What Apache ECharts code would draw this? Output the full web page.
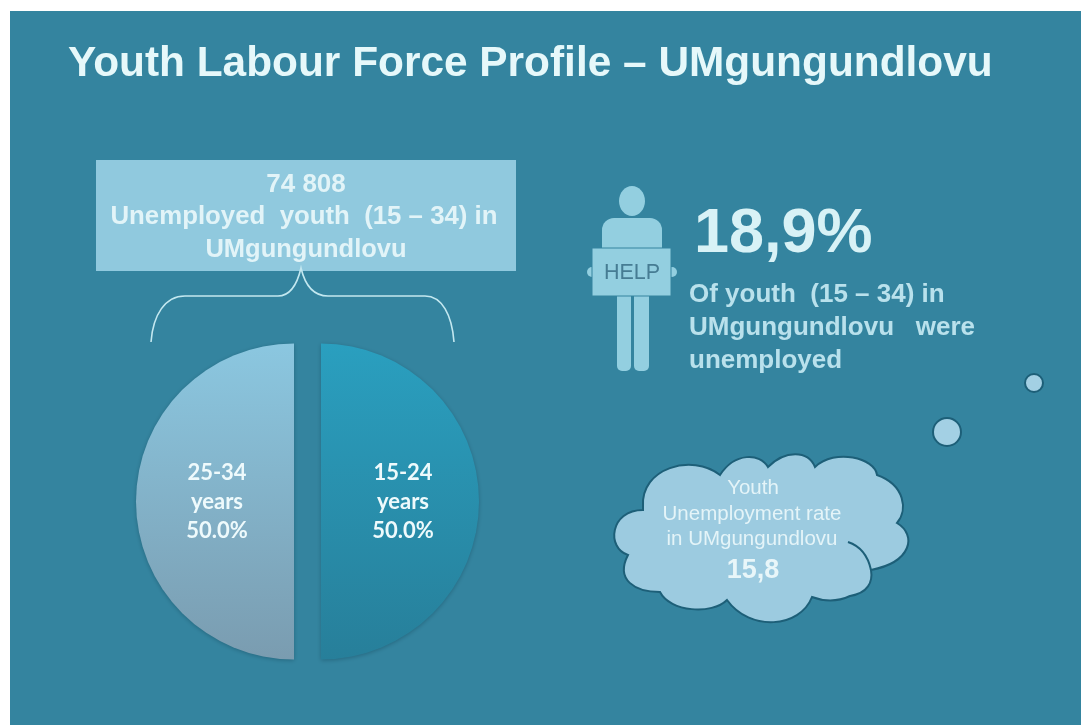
<!DOCTYPE html>
<html>
<head>
<meta charset="utf-8">
<style>html,body{margin:0;padding:0;background:#fff}#c{width:1081px;height:725px}</style>
<script src="https://cdn.jsdelivr.net/npm/echarts@6/dist/echarts.min.js"></script>
</head>
<body>
<div id="c"></div>
<script>
const chartTitle = 'Youth Labour Force Profile – UMgungundlovu';
const ageGroups = ['15-24', '25-34'];
const ageShares = [50.0, 50.0];
const boxLines = ['74 808', 'Unemployed  youth  (15 – 34) in', 'UMgungundlovu'];
const bigStat = '18,9%';
const statLines = ['Of youth  (15 – 34) in', 'UMgungundlovu   were', 'unemployed'];
const cloudLines = ['Youth', 'Unemployment rate', 'in UMgungundlovu'];
const cloudValue = '15,8';

const SANS = '"Liberation Sans", Arial, sans-serif';
const grad = (a, b) => ({ type: 'linear', x: 0, y: 0, x2: 0, y2: 1, colorStops: [{ offset: 0, color: a }, { offset: 1, color: b }] });
const fills = [grad('#2a9fbf', '#277f9a'), grad('#8bc7e0', '#7a9cb0')];

const txt = (text, x, y, size, color, align, weight) => ({
  type: 'text', x, y,
  style: { text, fill: color, font: (weight || 'bold') + ' ' + size + 'px ' + SANS, align: align || 'center', verticalAlign: 'middle' }
});

const cloudPath = 'M643 507 C640 468 692 453 720 475 C735 452 760 453 768 467 C785 450 808 450 815 467 C835 448 875 458 877 475 ' +
  'C905 485 908 510 897 523 C917 535 912 562 871 570 C873 582 868 593 850 596 C835 603 820 600 812 597 C800 628 750 632 727 600 ' +
  'C712 615 670 612 660 592 C635 592 615 580 628 555 C606 548 610 510 643 510 Z';
const cloudInnerPath = 'M848 542 C860 546 868 556 871 570';
const bracePath = 'M151 342 C153 315 165 296 185 296 L278 296 C290 296 297 285 301 268 C305 285 314 296 328 296 L425 296 C442 296 452 315 454 342';
echarts.graphic.registerShape('cloudShape', echarts.graphic.extendPath(cloudPath, {}));
echarts.graphic.registerShape('cloudInnerShape', echarts.graphic.extendPath(cloudInnerPath, {}));
echarts.graphic.registerShape('braceShape', echarts.graphic.extendPath(bracePath, {}));

const option = {
  animation: false,
  title: {
    text: chartTitle, left: 63, top: 38,
    textStyle: { color: '#e6f8fa', fontFamily: SANS, fontWeight: 'bold', fontSize: 42.4 }
  },
  graphic: { elements: [
    { type: 'rect', shape: { x: 10, y: 11, width: 1071, height: 714 }, style: { fill: '#34849f' } },
    // headline box
    { type: 'rect', shape: { x: 96, y: 160, width: 420, height: 111 }, style: { fill: '#90c9de' } },
    txt(boxLines[0], 306, 185, 26, '#e2f4f8'),
    txt(boxLines[1], 304, 217, 25.8, '#e2f4f8'),
    txt(boxLines[2], 306, 250, 25.5, '#e2f4f8'),
    // brace
    { type: 'braceShape', style: { fill: 'none', stroke: '#c3e8f0', lineWidth: 1.6 } },
    // person
    { type: 'ellipse', shape: { cx: 632, cy: 201, rx: 13, ry: 15 }, style: { fill: '#93cfe0' } },
    { type: 'rect', shape: { x: 602, y: 218, width: 60, height: 32, r: [12, 12, 0, 0] }, style: { fill: '#93cfe0' } },
    { type: 'rect', shape: { x: 617, y: 296, width: 14, height: 75, r: [0, 0, 5, 5] }, style: { fill: '#93cfe0' } },
    { type: 'rect', shape: { x: 634, y: 296, width: 15, height: 75, r: [0, 0, 5, 5] }, style: { fill: '#93cfe0' } },
    { type: 'circle', shape: { cx: 592, cy: 272, r: 5 }, style: { fill: '#93cfe0' } },
    { type: 'circle', shape: { cx: 672, cy: 272, r: 5 }, style: { fill: '#93cfe0' } },
    { type: 'rect', shape: { x: 592, y: 248, width: 79, height: 48 }, style: { fill: '#93cfe0', stroke: '#34849f', lineWidth: 1 } },
    txt('HELP', 632, 273, 21.5, '#467c93', 'center', 'normal'),
    // statistic
    txt(bigStat, 694, 235, 63, '#d8f2f6', 'left'),
    txt(statLines[0], 689, 295, 26, '#b9e1ec', 'left'),
    txt(statLines[1], 689, 328, 26, '#b9e1ec', 'left'),
    txt(statLines[2], 689, 361, 26, '#b9e1ec', 'left'),
    // thought bubbles and cloud
    { type: 'circle', shape: { cx: 1034, cy: 383, r: 9 }, style: { fill: '#a3d0e4', stroke: '#1d5f78', lineWidth: 2 } },
    { type: 'circle', shape: { cx: 947, cy: 432, r: 14 }, style: { fill: '#a3d0e4', stroke: '#1d5f78', lineWidth: 2 } },
    { type: 'cloudShape', style: { fill: '#9ccbe0', stroke: '#1d5f78', lineWidth: 2 } },
    { type: 'cloudInnerShape', style: { fill: 'none', stroke: '#1d5f78', lineWidth: 2 } },
    txt(cloudLines[0], 753, 488, 20.5, '#e4f4f8', 'center', 'normal'),
    txt(cloudLines[1], 752, 514, 20.5, '#e4f4f8', 'center', 'normal'),
    txt(cloudLines[2], 752, 539, 20.5, '#e4f4f8', 'center', 'normal'),
    txt(cloudValue, 753, 571, 27, '#e8f6f9')
  ] },
  series: [{
    type: 'pie',
    center: [307.5, 501.5],
    radius: [0, 158],
    startAngle: 90,
    clockwise: true,
    selectedMode: 'multiple',
    selectedOffset: 13.5,
    silent: true,
    labelLine: { show: false },
    label: {
      show: true, position: 'inner', color: '#eefafc',
      fontFamily: 'Lato, sans-serif', fontWeight: 'bold', fontSize: 22, lineHeight: 29,
      formatter: p => p.name + '\nyears\n' + p.value.toFixed(1) + '%'
    },
    itemStyle: { shadowColor: 'rgba(20,70,90,0.45)', shadowBlur: 4, shadowOffsetY: 1 },
    data: ageGroups.map((n, i) => ({
      name: n, value: ageShares[i], selected: true,
      itemStyle: { color: fills[i] },
      label: i === 1 ? { padding: [0, 0, 0, 10] } : {}
    }))
  }]
};
echarts.init(document.getElementById('c'), null, { renderer: 'canvas' }).setOption(option);
</script>
</body>
</html>
